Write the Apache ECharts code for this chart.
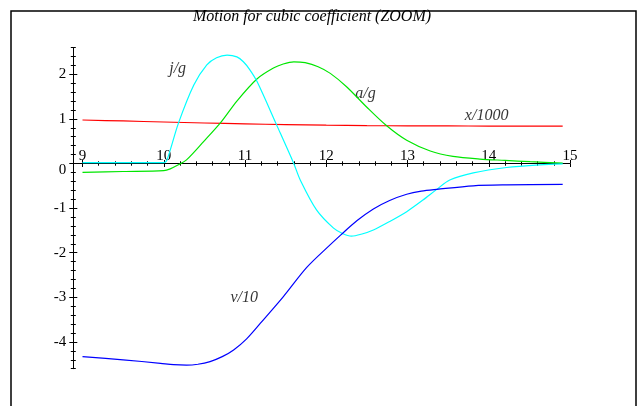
<!DOCTYPE html>
<html>
<head>
<meta charset="utf-8">
<script src="https://cdn.jsdelivr.net/npm/echarts@6/dist/echarts.min.js"></script>
<style>
  html, body { margin: 0; padding: 0; background: #fff; }
  #chart { width: 639px; height: 406px; }
</style>
</head>
<body>
<div id="chart"></div>
<script>
// Plot title and axis ticks
const titleText = 'Motion for cubic coefficient (ZOOM)';
const yTickValues = [-4, -3, -2, -1, 0, 1, 2];
const xRange = [9, 15];
const yRange = [-4.6, 2.6];

// Curves: [time, value]
const positionPts = [ // x/1000
  [9, 0.975], [9.5, 0.953], [10, 0.930], [10.5, 0.908], [11, 0.888], [11.5, 0.871],
  [12, 0.858], [12.5, 0.849], [13, 0.844], [13.5, 0.841], [14, 0.839], [14.5, 0.838], [14.91, 0.837]
];
const velocityPts = [ // v/10
  [9, -4.33], [9.5, -4.40], [9.96, -4.48], [10.12, -4.51], [10.28, -4.52], [10.42, -4.50],
  [10.57, -4.44], [10.72, -4.33], [10.86, -4.18], [11.02, -3.93], [11.19, -3.58], [11.47, -2.99],
  [11.76, -2.33], [12.05, -1.82], [12.18, -1.60], [12.38, -1.28], [12.58, -1.02], [12.78, -0.83],
  [12.99, -0.69], [13.17, -0.62], [13.36, -0.58], [13.81, -0.50], [14.22, -0.48], [14.91, -0.47]
];
const accelPts = [ // a/g
  [9, -0.20], [9.5, -0.18], [10, -0.16], [10.08, -0.12], [10.18, -0.03], [10.28, 0.08], [10.49, 0.49],
  [10.71, 0.94], [10.90, 1.40], [11.15, 1.90], [11.35, 2.14], [11.47, 2.23], [11.60, 2.28], [11.74, 2.26],
  [11.90, 2.17], [12.05, 2.02], [12.25, 1.72], [12.50, 1.26], [12.74, 0.85], [12.99, 0.52], [13.28, 0.28],
  [13.56, 0.16], [13.89, 0.10], [14.2, 0.07], [14.51, 0.04], [14.91, 0.01]
];
const jerkPts = [ // j/g
  [9, 0.02], [9.5, 0.02], [10.0, 0.02], [10.04, 0.08], [10.18, 0.90], [10.37, 1.76], [10.53, 2.21],
  [10.65, 2.37], [10.78, 2.43], [10.90, 2.39], [10.98, 2.28], [11.06, 2.10], [11.15, 1.83], [11.39, 0.86],
  [11.60, 0.00], [11.68, -0.37], [11.88, -1.04], [12.09, -1.45], [12.20, -1.57], [12.31, -1.63],
  [12.44, -1.58], [12.58, -1.49], [12.78, -1.30], [12.99, -1.08], [13.19, -0.82], [13.36, -0.58],
  [13.52, -0.37], [13.81, -0.21], [14.22, -0.09], [14.63, -0.03], [14.91, -0.01]
];

// Curve captions, placed in data coordinates
const captionText = ['j/g', 'a/g', 'x/1000', 'v/10'];
const captionX = [10.171, 12.483, 13.974, 10.991];
const captionY = [2.12, 1.56, 1.076, -3.01];

const serif = '"Liberation Serif", "Times New Roman", serif';
const ink = '#000';
const tickLine = { color: ink, width: 1 };

const W = 639, H = 406;
const plotTop = 47.5, plotBottom = 37.3, plotRight = 69;
const axisLeft = 73.3;      // vertical axis line
const dataLeft = 82.5;      // where t = 9 sits
const unitX = (W - plotRight - dataLeft) / (xRange[1] - xRange[0]);
const xMinAtAxis = xRange[0] - (dataLeft - axisLeft) / unitX;
// the tick strip for the time axis ends exactly at value 0
const unitY = (H - plotTop - plotBottom) / (yRange[1] - yRange[0]);
const zeroBottom = H - (plotTop + yRange[1] * unitY);

const chart = echarts.init(document.getElementById('chart'), null, { renderer: 'canvas' });

function yAxisCopy(extra) {
  return Object.assign({
    gridIndex: 0, type: 'value', position: 'left', min: yRange[0], max: yRange[1],
    axisLine: { show: false }, axisTick: { show: false }, axisLabel: { show: false },
    splitLine: { show: false }
  }, extra);
}

function timeTicks(inside, labels) {
  return {
    gridIndex: 1, type: 'value', position: 'bottom', min: xRange[0], max: xRange[1], interval: 1,
    axisLine: { show: false, onZero: false },
    axisTick: { show: true, inside: inside, length: 3.5, lineStyle: tickLine },
    minorTick: { show: true, splitNumber: 5, length: 2.2, lineStyle: tickLine },
    axisLabel: labels
      ? { show: true, inside: true, margin: 0, fontFamily: serif, fontSize: 15, color: ink }
      : { show: false },
    splitLine: { show: false }
  };
}

const option = {
  animation: false,
  backgroundColor: '#fff',
  grid: [
    { left: axisLeft, right: plotRight, top: plotTop, bottom: plotBottom, containLabel: false },
    { left: dataLeft, right: plotRight, top: plotTop, bottom: zeroBottom, containLabel: false }
  ],
  xAxis: [
    {
      gridIndex: 0, type: 'value', min: xMinAtAxis, max: xRange[1],
      axisLine: { show: true, onZero: true, lineStyle: tickLine },
      axisTick: { show: false }, axisLabel: { show: false }, splitLine: { show: false }
    },
    timeTicks(true, true),
    timeTicks(false, false)
  ],
  yAxis: [
    yAxisCopy({
      axisLine: { show: true, onZero: false, lineStyle: tickLine },
      axisTick: { show: true, inside: false, length: 4, customValues: yTickValues, lineStyle: tickLine },
      axisLabel: {
        show: true, customValues: yTickValues, margin: 7, fontFamily: serif, fontSize: 15, color: ink,
        formatter: v => (v === 0 ? '{z|0}' : String(v)),
        rich: { z: { fontFamily: serif, fontSize: 15, color: ink, padding: [13, 0, 0, 0] } }
      }
    }),
    yAxisCopy({ axisTick: { show: true, inside: true, length: 4, customValues: yTickValues, lineStyle: tickLine } }),
    yAxisCopy({ interval: 0.2, axisTick: { show: true, inside: false, length: 2.5, lineStyle: tickLine } }),
    yAxisCopy({ interval: 0.2, axisTick: { show: true, inside: true, length: 2.5, lineStyle: tickLine } }),
    {
      gridIndex: 1, type: 'value', position: 'left', min: 0, max: yRange[1],
      axisLine: { show: false }, axisTick: { show: false }, axisLabel: { show: false }, splitLine: { show: false }
    }
  ],
  series: [
    { name: 'x/1000', data: positionPts, color: '#ff0000' },
    { name: 'a/g', data: accelPts, color: '#00e600' },
    { name: 'j/g', data: jerkPts, color: '#00ffff' },
    { name: 'v/10', data: velocityPts, color: '#0000ff' }
  ].map(s => ({
    type: 'line', name: s.name, data: s.data, xAxisIndex: 0, yAxisIndex: 0,
    showSymbol: false, smooth: 0.3, silent: true,
    lineStyle: { color: s.color, width: 1.2 }, itemStyle: { color: s.color }
  })).concat([{
    type: 'scatter', xAxisIndex: 0, yAxisIndex: 0, silent: true, symbolSize: 1,
    itemStyle: { color: 'rgba(0,0,0,0)' },
    data: captionText.map((t, i) => [captionX[i], captionY[i], t]),
    label: {
      show: true, position: 'inside', formatter: p => p.data[2],
      fontFamily: serif, fontStyle: 'italic', fontSize: 16, color: ink
    }
  }]),
  graphic: [
    {
      type: 'rect', silent: true,
      shape: { x: 11, y: 11, width: 625, height: 420 },
      style: { fill: 'none', stroke: ink, lineWidth: 1.5 }
    },
    {
      type: 'text', silent: true, x: 312, y: 17,
      style: {
        text: titleText, font: 'italic 16px ' + serif, fill: ink,
        align: 'center', verticalAlign: 'middle', textAlign: 'center', textVerticalAlign: 'middle'
      }
    }
  ]
};

chart.setOption(option);
</script>
</body>
</html>
